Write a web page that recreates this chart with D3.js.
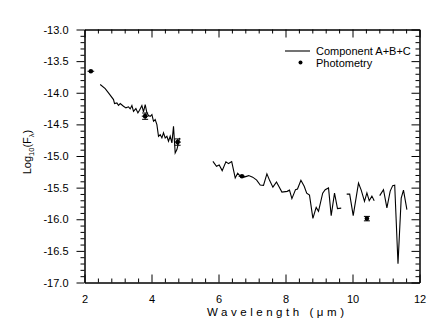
<!DOCTYPE html>
<html><head><meta charset="utf-8">
<script src="https://cdn.jsdelivr.net/npm/d3@7"></script>
<style>
html,body{margin:0;padding:0;background:#fff;}
svg{display:block;}
text{font-family:"Liberation Sans",Arial,sans-serif;fill:#000;}
</style></head><body>
<svg id="chart" width="436" height="325"></svg>
<script>
// ---- data ----
const xTicks = [2, 4, 6, 8, 10, 12];
const yTicks = [-13.0, -13.5, -14.0, -14.5, -15.0, -15.5, -16.0, -16.5, -17.0];

// spectrum (null flux = gap between segments)
const specWave = [
  2.469, 2.618, 2.716, 2.866, 2.896, 2.967, 3.015, 3.066, 3.164, 3.236, 3.313, 3.364, 3.415, 3.463, 3.534,
  3.594, 3.642, 3.713, 3.761, 3.812, 3.863, 3.910, 3.961, 4.012, 4.060, 4.110, 4.161, 4.209, 4.260, 4.310,
  4.358, 4.409, 4.460, 4.507, 4.558, 4.609, 4.657, 4.707, 4.758, 4.806, 4.836,
  5.3,
  5.833, 5.940, 6.021, 6.110, 6.221, 6.299, 6.394, 6.499, 6.573, 6.648, 6.767, 6.901, 7.021, 7.140, 7.245,
  7.343, 7.445, 7.528, 7.624, 7.731, 7.893, 8.051, 8.119, 8.191, 8.299, 8.358, 8.460, 8.558, 8.633, 8.716,
  8.818, 8.916, 8.985, 9.110, 9.185, 9.284, 9.364, 9.463, 9.552, 9.663,
  9.75,
  9.827, 9.916, 10.021, 10.179, 10.260, 10.358, 10.430, 10.499, 10.579, 10.648,
  10.73,
  10.812, 10.925, 11.027, 11.125, 11.200, 11.260, 11.358, 11.454, 11.522, 11.624
];
const specFlux = [
  -13.870, -13.934, -14.002, -14.108, -14.171, -14.160, -14.198, -14.171, -14.214, -14.239, -14.223, -14.255, -14.203, -14.293, -14.250,
  -14.318, -14.277, -14.203, -14.302, -14.187, -14.318, -14.361, -14.372, -14.345, -14.451, -14.424, -14.503, -14.688, -14.661, -14.714,
  -14.634, -14.714, -14.688, -14.767, -14.688, -14.793, -14.530, -14.951, -14.899, -14.793, -14.714,
  null,
  -15.084, -15.163, -15.141, -15.231, -15.093, -15.120, -15.089, -15.347, -15.271, -15.318, -15.334, -15.310, -15.334, -15.381, -15.460,
  -15.464, -15.283, -15.389, -15.492, -15.410, -15.571, -15.559, -15.540, -15.674, -15.532, -15.521, -15.384, -15.479, -15.587, -15.619,
  -15.987, -15.812, -15.875, -15.587, -15.532, -15.505, -15.943, -15.587, -15.832, -15.824,
  null,
  -15.603, -15.603, -15.943, -15.429, -15.540, -15.717, -15.584, -15.706, -15.634, -15.706,
  null,
  -15.627, -15.532, -15.821, -15.555, -15.468, -15.460, -16.703, -15.666, -15.540, -15.848
];

const photWave = [2.19, 3.81, 4.78, 6.70, 10.43];
const photFlux = [-13.66, -14.37, -14.78, -15.32, -15.99];
const photWaveErr = [0.10, 0.10, 0.10, 0.10, 0.0];
const photFluxErr = [0.0, 0.05, 0.05, 0.0, 0.035];

const legendLabels = ["Component A+B+C", "Photometry"];

// ---- layout ----
const svg = d3.select("#chart");
const x = d3.scaleLinear().domain([2, 12]).range([84.5, 419.5]);
const y = d3.scaleLinear().domain([-17, -13]).range([282.5, 29.5]);

const minorX = d3.range(2, 12.0001, 0.4).filter(v => Math.abs(v / 2 - Math.round(v / 2)) > 1e-6);
const minorY = d3.range(-17, -12.9999, 0.1).filter(v => Math.abs(v * 2 - Math.round(v * 2)) > 1e-6);

function styleAxis(g) {
  g.selectAll("path.domain").attr("stroke", "#000").attr("stroke-width", 1);
  g.selectAll(".tick line").attr("stroke", "#000").attr("stroke-width", 1);
  g.selectAll(".tick text").attr("font-size", 11).attr("fill", "#000")
    .attr("font-family", '"Liberation Sans", Arial, sans-serif');
}

// bottom axis: inward ticks
svg.append("g").attr("transform", "translate(0,282.5)")
  .call(d3.axisBottom(x).tickValues(xTicks).tickSizeInner(-8).tickSizeOuter(0).tickPadding(12.5).tickFormat(d3.format("d")))
  .call(styleAxis);
svg.append("g").attr("transform", "translate(0,282.5)")
  .call(d3.axisBottom(x).tickValues(minorX).tickSizeInner(-4).tickSizeOuter(0).tickFormat(""))
  .call(styleAxis);

// top axis: inward ticks
svg.append("g").attr("transform", "translate(0,29.5)")
  .call(d3.axisTop(x).tickValues(xTicks).tickSizeInner(-8).tickSizeOuter(0).tickFormat(""))
  .call(styleAxis);
svg.append("g").attr("transform", "translate(0,29.5)")
  .call(d3.axisTop(x).tickValues(minorX).tickSizeInner(-4).tickSizeOuter(0).tickFormat(""))
  .call(styleAxis);

// left axis: outward ticks
svg.append("g").attr("transform", "translate(84.5,0)")
  .call(d3.axisLeft(y).tickValues(yTicks).tickSizeInner(8).tickSizeOuter(0).tickPadding(8).tickFormat(d3.format(".1f")))
  .call(styleAxis);
svg.append("g").attr("transform", "translate(84.5,0)")
  .call(d3.axisLeft(y).tickValues(minorY).tickSizeInner(4).tickSizeOuter(0).tickFormat(""))
  .call(styleAxis);

// right axis: inward ticks
svg.append("g").attr("transform", "translate(419.5,0)")
  .call(d3.axisRight(y).tickValues(yTicks).tickSizeInner(-8).tickSizeOuter(0).tickFormat(""))
  .call(styleAxis);
svg.append("g").attr("transform", "translate(419.5,0)")
  .call(d3.axisRight(y).tickValues(minorY).tickSizeInner(-4).tickSizeOuter(0).tickFormat(""))
  .call(styleAxis);

// use plain hyphen for minus
svg.selectAll(".tick text").each(function () {
  const t = d3.select(this); t.text(t.text().replace("\u2212", "-"));
});

// spectrum line
const specData = specWave.map((w, i) => ({ w, f: specFlux[i] }));
svg.append("path")
  .datum(specData)
  .attr("fill", "none").attr("stroke", "#000").attr("stroke-width", 1.1)
  .attr("stroke-linejoin", "miter")
  .attr("d", d3.line().defined(d => d.f !== null).x(d => x(d.w)).y(d => y(d.f)));

// photometry with error bars
const phot = photWave.map((w, i) => ({ w, f: photFlux[i], ew: photWaveErr[i], ef: photFluxErr[i] }));
const pg = svg.append("g");
phot.forEach(p => {
  if (p.ew > 0) {
    pg.append("line").attr("x1", x(p.w - p.ew)).attr("x2", x(p.w + p.ew))
      .attr("y1", y(p.f)).attr("y2", y(p.f)).attr("stroke", "#000").attr("stroke-width", 1);
  }
  if (p.ef > 0) {
    pg.append("line").attr("x1", x(p.w)).attr("x2", x(p.w))
      .attr("y1", y(p.f - p.ef)).attr("y2", y(p.f + p.ef)).attr("stroke", "#000").attr("stroke-width", 1);
    [p.f - p.ef, p.f + p.ef].forEach(v => {
      pg.append("line").attr("x1", x(p.w) - 3).attr("x2", x(p.w) + 3)
        .attr("y1", y(v)).attr("y2", y(v)).attr("stroke", "#000").attr("stroke-width", 1);
    });
  }
  pg.append("circle").attr("cx", x(p.w)).attr("cy", y(p.f)).attr("r", 2.3).attr("fill", "#000");
});

// legend
const lg = svg.append("g");
lg.append("line").attr("x1", 285).attr("x2", 310).attr("y1", 51).attr("y2", 51)
  .attr("stroke", "#000").attr("stroke-width", 1.1);
lg.append("text").attr("x", 316).attr("y", 55).attr("font-size", 11).text(legendLabels[0]);
lg.append("circle").attr("cx", 300.5).attr("cy", 62.5).attr("r", 2).attr("fill", "#000");
lg.append("text").attr("x", 316).attr("y", 66.5).attr("font-size", 11).text(legendLabels[1]);

// axis titles
svg.append("text").attr("x", 207).attr("y", 316).attr("font-size", 11.5)
  .attr("textLength", 137).attr("lengthAdjust", "spacing")
  .text("Wavelength (\u03BCm)");

const yl = svg.append("text").attr("transform", "translate(31,152) rotate(-90)")
  .attr("text-anchor", "middle").attr("font-size", 11);
yl.append("tspan").text("Log");
yl.append("tspan").attr("font-size", 7.5).attr("dy", 3).text("10");
yl.append("tspan").attr("dy", -3).text("(F");
yl.append("tspan").attr("font-size", 7.5).attr("dy", 3).text("\u03BB");
yl.append("tspan").attr("dy", -3).text(")");
</script>
</body></html>
